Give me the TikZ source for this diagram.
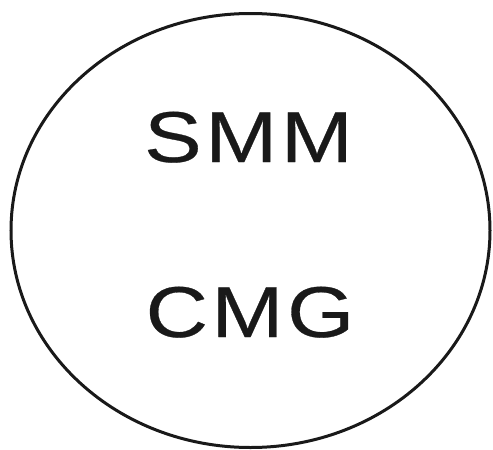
\documentclass[tikz,border=0pt]{standalone}
\usepackage{fontspec}
\newfontfamily\lblfont[FakeStretch=1.2,LetterSpace=5.0,FakeBold=0.4]{Liberation Sans}
\tikzset{
  lbl/.style={font=\lblfont\fontsize{72}{80}\selectfont, text=black!90, anchor=base, inner sep=0pt},
  outer/.style={draw=black!90, line width=3pt}
}
\begin{document}
\begin{tikzpicture}[x=1pt,y=-1pt]
\useasboundingbox (0,0) rectangle (493,450);
\draw[outer] (250.5,230.5) ellipse [x radius=239.5, y radius=217];
\node[lbl] (smm) at (248.5,162) {SMM};
\node[lbl] (cmg) at (250,337) {CMG};
\end{tikzpicture}
\end{document}
